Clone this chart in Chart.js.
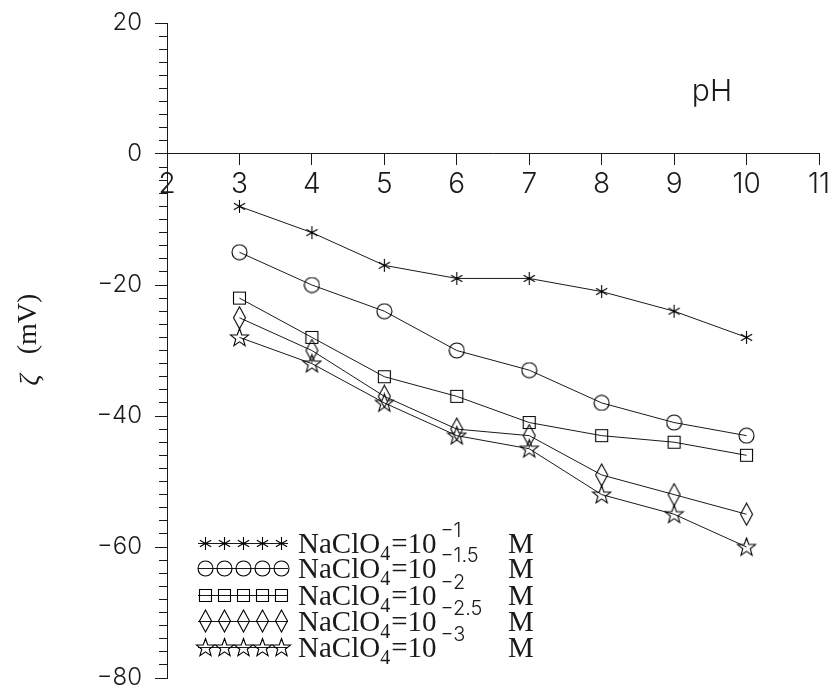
<!DOCTYPE html>
<html>
<head>
<meta charset="utf-8">
<script src="https://cdn.jsdelivr.net/npm/chart.js@4"></script>
<style>
  html, body { margin: 0; padding: 0; background: #fff; }
  canvas { display: block; }
</style>
</head>
<body>
<canvas id="chart" width="835" height="687"></canvas>
<script>
// values
const pH = [3, 4, 5, 6, 7, 8, 9, 10];
const zeta_1 = [-8, -12, -17, -19, -19, -21, -24, -28];
const zeta_1_5 = [-15, -20, -24, -30, -33, -38, -41, -43];
const zeta_2 = [-22, -28, -34, -37, -41, -43, -44, -46];
const zeta_2_5 = [-25, -30, -37, -42, -43, -49, -52, -55];
const zeta_3 = [-28, -32, -38, -43, -45, -52, -55, -60];
const exponents = ['\u22121', '\u22121.5', '\u22122', '\u22122.5', '\u22123'];

const INK = '#1a1a1a';
const SANS = 'Inter, "Liberation Sans", Arial, sans-serif';
const SERIF = '"Liberation Serif", "Times New Roman", serif';

// hollow markers drawn by hand, used as pointStyle images
function makeMarker(kind) {
  const c = document.createElement('canvas');
  let w = 15, h = 15;
  if (kind === 'circle') { w = 17; h = 17; }
  if (kind === 'diamond') { w = 15; h = 24; }
  if (kind === 'star') { w = 21; h = 21; }
  c.width = w; c.height = h;
  const g = c.getContext('2d');
  g.strokeStyle = '#000';
  g.lineWidth = 1.1;
  g.beginPath();
  if (kind === 'asterisk') {
    const r = 6.5, cx = 7.5, cy = 7.5;
    for (const a of [90, 30, -30]) {
      const dx = r * Math.cos(a * Math.PI / 180), dy = r * Math.sin(a * Math.PI / 180);
      g.moveTo(cx - dx, cy - dy);
      g.lineTo(cx + dx, cy + dy);
    }
  } else if (kind === 'circle') {
    g.arc(8.5, 8.5, 7.5, 0, Math.PI * 2);
  } else if (kind === 'square') {
    g.rect(1.5, 1.5, 12, 12);
  } else if (kind === 'diamond') {
    g.moveTo(7.5, 1); g.lineTo(13.5, 12); g.lineTo(7.5, 23); g.lineTo(1.5, 12); g.closePath();
  } else if (kind === 'star') {
    const cx = 10.5, cy = 11, ro = 9.5, ri = 3.9;
    for (let i = 0; i < 10; i++) {
      const r = i % 2 ? ri : ro;
      const a = -Math.PI / 2 + i * Math.PI / 5;
      const px = cx + r * Math.cos(a), py = cy + r * Math.sin(a);
      if (i === 0) g.moveTo(px, py); else g.lineTo(px, py);
    }
    g.closePath();
  }
  g.stroke();
  return c;
}

const markers = ['asterisk', 'circle', 'square', 'diamond', 'star'].map(makeMarker);
const series = [zeta_1, zeta_1_5, zeta_2, zeta_2_5, zeta_3];

const datasets = series.map((vals, i) => ({
  label: 'NaClO4=10^' + exponents[i] + ' M',
  data: pH.map((x, j) => ({ x: x, y: vals[j] })),
  borderColor: INK,
  borderWidth: 1,
  pointStyle: markers[i],
  pointRadius: 7,
  fill: false,
  tension: 0,
  clip: false
}));

// extra text: pH label, y title, hand-drawn legend
const annotations = {
  id: 'annotations',
  afterDraw(chart) {
    const ctx = chart.ctx;
    ctx.save();
    ctx.fillStyle = INK;

    ctx.font = '300 30px ' + SANS;
    ctx.textAlign = 'center';
    ctx.textBaseline = 'middle';
    ctx.fillText('pH', 712, 92);

    // y title, rotated
    ctx.save();
    ctx.translate(29, 340);
    ctx.rotate(-Math.PI / 2);
    ctx.font = '28px ' + SERIF;
    ctx.textBaseline = 'middle';
    ctx.fillText('(mV)', 16, 0);
    ctx.font = 'italic 28px ' + SERIF;
    ctx.fillText('\u03B6', -40, 2);
    ctx.restore();

    // legend
    const rowsY = [543, 568, 595, 621, 647];
    const mx = [205, 224, 243, 262, 281];
    ctx.strokeStyle = INK;
    ctx.lineWidth = 1;
    ctx.textAlign = 'left';
    ctx.textBaseline = 'alphabetic';
    rowsY.forEach((y, i) => {
      ctx.beginPath();
      ctx.moveTo(198, y + 0.5);
      ctx.lineTo(288, y + 0.5);
      ctx.stroke();
      const m = markers[i];
      mx.forEach(x => ctx.drawImage(m, Math.round(x - m.width / 2), Math.round(y - m.height / 2)));

      const base = y + 10;
      let x = 298;
      ctx.font = '29px ' + SERIF;
      ctx.fillText('NaClO', x, base);
      x += ctx.measureText('NaClO').width;
      ctx.font = '20px ' + SERIF;
      ctx.fillText('4', x, base + 7);
      x += ctx.measureText('4').width + 1;
      ctx.font = '29px ' + SERIF;
      ctx.fillText('=10', x, base);
      x += ctx.measureText('=10').width + 4;
      ctx.font = '300 20px ' + SANS;
      ctx.fillText(exponents[i], x, base - 16);
      ctx.font = '29px ' + SERIF;
      ctx.fillText('M', 508, base);
    });
    ctx.restore();
  }
};

const border = { display: true, color: INK, width: 1 };

new Chart(document.getElementById('chart'), {
  type: 'line',
  data: { datasets: datasets },
  options: {
    responsive: false,
    animation: false,
    layout: { padding: { left: 0, right: 16, top: 23, bottom: 9 } },
    plugins: { legend: { display: false }, tooltip: { enabled: false } },
    scales: {
      x: {
        type: 'linear',
        min: 2,
        max: 11,
        position: { y: 0 },
        ticks: { stepSize: 1, padding: 3, color: INK, font: { family: SANS, size: 28, weight: 300 } },
        grid: { drawOnChartArea: false, tickLength: 11, color: INK },
        border: border
      },
      y: {
        type: 'linear',
        min: -80,
        max: 20,
        position: 'left',
        afterFit(scale) {
          scale.width = 167;
          scale.paddingTop = 0;
          scale.paddingBottom = 0;
        },
        ticks: {
          stepSize: 20,
          padding: 13,
          color: INK,
          font: { family: SANS, size: 24, weight: 300 },
          callback: v => (v < 0 ? '\u2212' + Math.abs(v) : String(v))
        },
        grid: { drawOnChartArea: false, tickLength: 12, color: INK },
        border: border
      },
      yMinor: {
        type: 'linear',
        axis: 'y',
        min: -80,
        max: 20,
        position: { x: 2 },
        ticks: { stepSize: 2, display: false },
        grid: { drawOnChartArea: false, tickLength: 8, color: INK },
        border: border
      }
    }
  },
  plugins: [annotations]
});
</script>
</body>
</html>
